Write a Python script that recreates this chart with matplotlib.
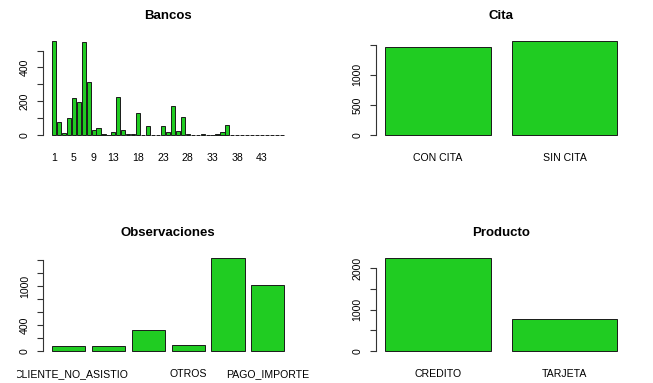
import numpy as np
import matplotlib
matplotlib.use('Agg')
import matplotlib.pyplot as plt
from matplotlib.transforms import Bbox, ScaledTranslation

plt.rcParams['font.family'] = ['Liberation Sans', 'DejaVu Sans']

# Bancos: counts per bank code 1..47
bancos_counts = [556, 75, 10, 99, 218, 196, 550, 311, 30, 42,
                 6, 1, 18, 226, 30, 8, 8, 127, 0, 52,
                 0, 0, 54, 18, 171, 24, 105, 8, 1, 0,
                 8, 0, 0, 3, 15, 58, 1, 1, 1, 1,
                 1, 1, 1, 1, 1, 1, 1]
bancos_labels = [str(i) for i in range(1, len(bancos_counts) + 1)]
bancos_shown = ['1', '5', '9', '13', '18', '23', '28', '33', '38', '43']

cita_labels = ['CON CITA', 'SIN CITA']
cita_counts = [1462, 1563]

obs_labels = ['CLIENTE_NO_ASISTIO', '', '', 'OTROS', '', 'PAGO_IMPORTE']
obs_counts = [82, 72, 323, 92, 1440, 1016]

prod_labels = ['CREDITO', 'TARJETA']
prod_counts = [2250, 775]

GREEN = '#20cc22'
W, H = 653.0, 383.0

fig = plt.figure(figsize=(6.53, 3.83), dpi=100)


def rbar(rect, counts, labels, title, yticks, ylabels, shown=None, fs=7.6):
    ax = fig.add_axes([rect[0] / W, 1 - rect[3] / H,
                       (rect[2] - rect[0]) / W, (rect[3] - rect[1]) / H])
    n = len(counts)
    x = 0.7 + 1.2 * np.arange(n)
    ax.bar(x, counts, width=1.0, color=GREEN, edgecolor='#1a1a1a', linewidth=0.7)
    lo, hi = 0.2, 1.2 * n
    ax.set_xlim(lo - 0.04 * (hi - lo), hi + 0.04 * (hi - lo))
    m = max(counts)
    ax.set_ylim(-0.04 * m, 1.04 * m)
    for s in ['top', 'right', 'bottom']:
        ax.spines[s].set_visible(False)
    ax.spines['left'].set_bounds(yticks[0], yticks[-1])
    ax.spines['left'].set_color('#333333')
    ax.spines['left'].set_linewidth(0.8)
    ax.set_yticks(yticks)
    ax.set_yticklabels(ylabels, rotation=90, va='center', fontsize=fs)
    ax.tick_params(axis='y', length=4.5, width=0.8, color='#333333', pad=5)
    if shown is not None:
        idx = [labels.index(s) for s in shown]
        ax.set_xticks(x[idx])
        ax.set_xticklabels(shown, fontsize=fs)
    else:
        ax.set_xticks(x)
        ax.set_xticklabels(labels, fontsize=fs)
    ax.tick_params(axis='x', length=0, pad=10.5)
    ax.set_title(title, fontsize=9.5, fontweight='bold', pad=13)
    return ax


def lab(ticks, keep):
    return [str(t) if t in keep else '' for t in ticks]


t = list(range(0, 501, 100))
rbar((42.6, 37.3, 293.3, 138.7), bancos_counts, bancos_labels, 'Bancos',
     t, lab(t, [0, 200, 400]), shown=bancos_shown)

t = list(range(0, 1501, 500))
rbar((375.7, 37.3, 626.6, 138.7), cita_counts, cita_labels, 'Cita',
     t, lab(t, [0, 500, 1000]))

t = list(range(0, 1401, 200))
ax3 = rbar((43.0, 254.0, 293.6, 354.7), obs_counts, obs_labels, 'Observaciones',
           t, lab(t, [0, 400, 1000]))
# first label runs off the left edge in the original, cut through the C
first = ax3.get_xticklabels()[0]
first.set_transform(first.get_transform() + ScaledTranslation(3 / 100, 0, fig.dpi_scale_trans))
first.set_clip_box(Bbox([[17, 0], [W, H]]))
first.set_clip_on(True)

t = list(range(0, 2001, 500))
rbar((375.7, 254.0, 626.6, 354.7), prod_counts, prod_labels, 'Producto',
     t, lab(t, [0, 1000, 2000]))

fig.savefig('out.png', dpi=100)
